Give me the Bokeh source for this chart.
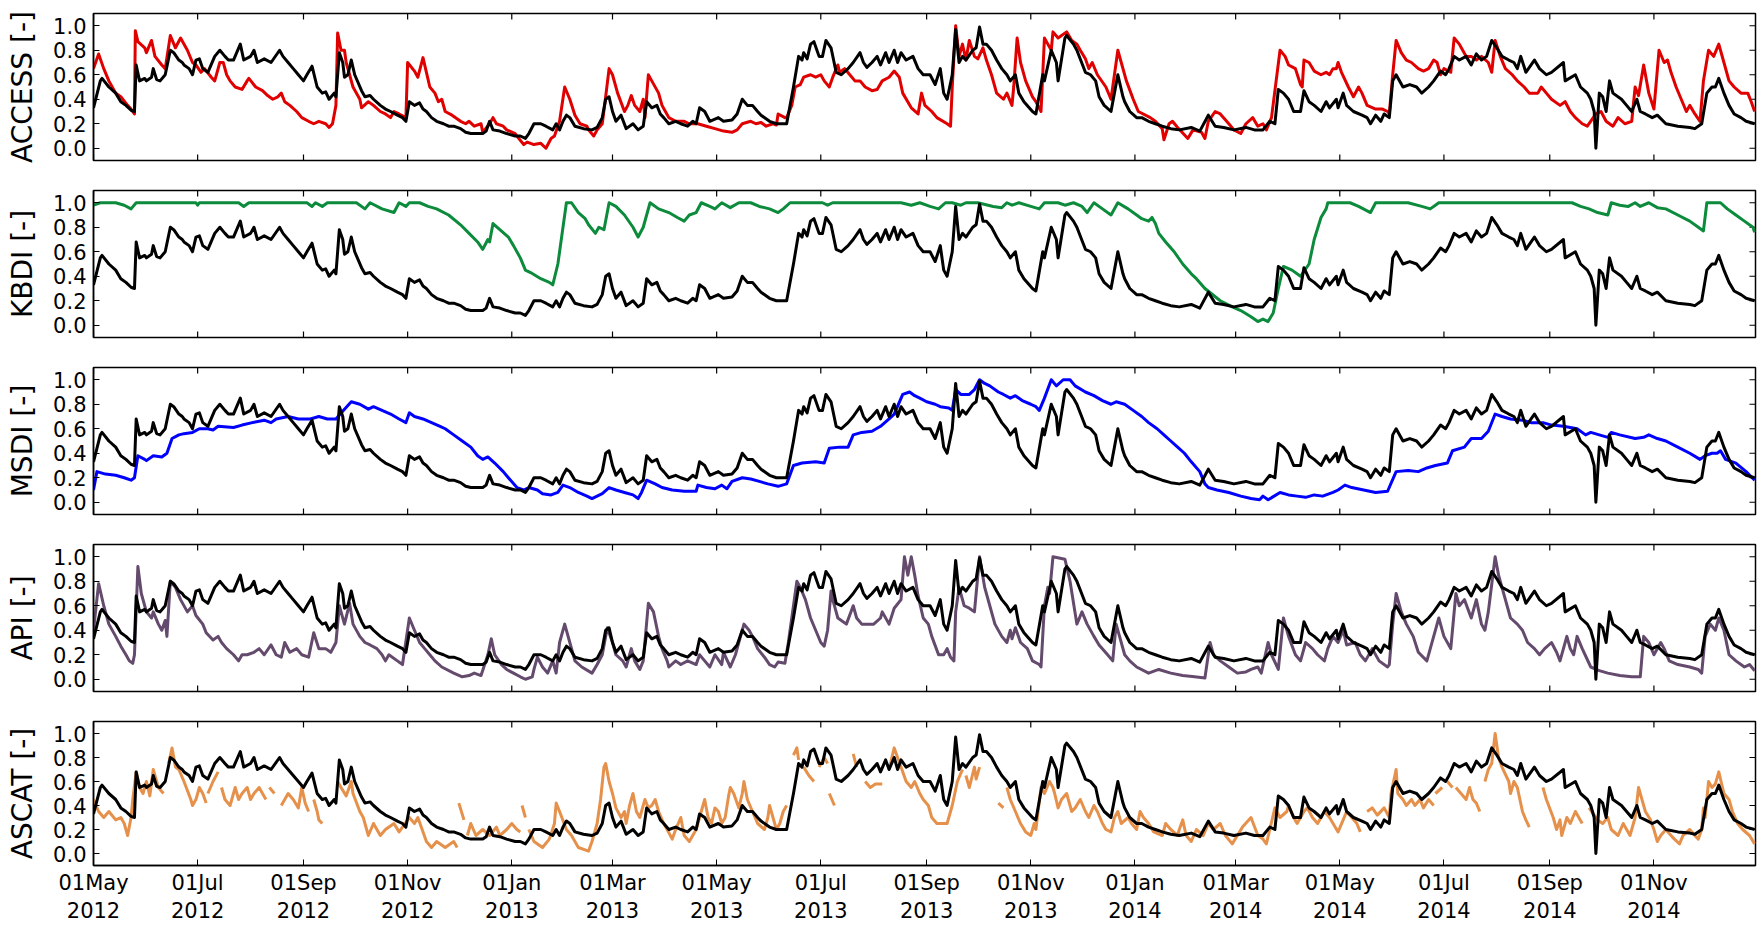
import numpy as np
import pandas as pd
from bokeh.plotting import figure
from bokeh.layouts import column
from bokeh.models import Range1d, FixedTicker
from bokeh.embed import file_html
from bokeh.resources import INLINE

START = "2012-05-01"
END = "2014-12-30"

tick_dates = ["2012-05-01", "2012-07-01", "2012-09-01", "2012-11-01", "2013-01-01", "2013-03-01",
              "2013-05-01", "2013-07-01", "2013-09-01", "2013-11-01", "2014-01-01", "2014-03-01",
              "2014-05-01", "2014-07-01", "2014-09-01", "2014-11-01"]
tick_labels = ["01May\n2012", "01Jul\n2012", "01Sep\n2012", "01Nov\n2012", "01Jan\n2013", "01Mar\n2013",
               "01May\n2013", "01Jul\n2013", "01Sep\n2013", "01Nov\n2013", "01Jan\n2014", "01Mar\n2014",
               "01May\n2014", "01Jul\n2014", "01Sep\n2014", "01Nov\n2014"]
y_ticks = [0.0, 0.2, 0.4, 0.6, 0.8, 1.0]
y_tick_labels = ["0.0", "0.2", "0.4", "0.6", "0.8", "1.0"]
panel_labels = ["ACCESS [-]", "KBDI [-]", "MSDI [-]", "API [-]", "ASCAT [-]"]
panel_colors = ["#e00000", "#0b8b3b", "#0000ff", "#644a6c", "#e6914b"]

# (days since 01 May 2012, value); None marks a gap in the record
ref_pts = [(0,0.33),(4,0.55),(5,0.57),(9,0.5),(13,0.45),(16,0.38),(19,0.35),(22,0.31),(24,0.30),(25,0.68),(27,0.55),(30,0.57),(31,0.55),(34,0.58),(35,0.65),(37,0.56),(39,0.55),(42,0.6),(45,0.8),(47,0.78),(50,0.72),(52,0.7),(53,0.68),(56,0.65),(58,0.6),(60,0.72),(62,0.73),(64,0.65),(67,0.62),(71,0.75),(74,0.8),(77,0.75),(79,0.72),(82,0.72),(86,0.85),(88,0.72),(92,0.75),(94,0.8),(96,0.7),(100,0.73),(104,0.7),(109,0.8),(111,0.75),(114,0.7),(117,0.65),(120,0.6),(123,0.55),(125,0.6),(128,0.67),(131,0.5),(134,0.45),(136,0.46),(138,0.4),(141,0.45),(142,0.42),(144,0.78),(146,0.7),(147,0.58),(149,0.6),(151,0.72),(153,0.6),(157,0.47),(159,0.42),(162,0.43),(164,0.4),(168,0.35),(171,0.32),(174,0.3),(178,0.27),(181,0.25),(183,0.22),(185,0.38),(188,0.35),(191,0.37),(193,0.32),(195,0.3),(198,0.25),(201,0.22),(205,0.2),(208,0.18),(211,0.18),(215,0.16),(218,0.13),(221,0.12),(228,0.12),(230,0.14),(232,0.22),(234,0.15),(238,0.14),(242,0.12),(247,0.1),(250,0.1),(253,0.08),(255,0.12),(258,0.2),(262,0.2),(265,0.18),(269,0.15),(271,0.2),(273,0.15),(275,0.22),(277,0.27),(279,0.25),(282,0.18),(287,0.16),(292,0.15),(295,0.17),(298,0.25),(300,0.4),(302,0.42),(304,0.3),(306,0.22),(309,0.27),(312,0.16),(316,0.2),(319,0.15),(322,0.18),(324,0.38),(327,0.33),(330,0.35),(332,0.28),(334,0.25),(337,0.2),(341,0.22),(344,0.2),(348,0.18),(351,0.22),(353,0.2),(355,0.33),(358,0.3),(361,0.22),(366,0.25),(369,0.22),(374,0.23),(377,0.28),(380,0.4),(383,0.35),(386,0.35),(389,0.3),(391,0.27),(396,0.22),(400,0.2),(406,0.2),(410,0.5),(413,0.75),(415,0.72),(416,0.78),(418,0.73),(420,0.85),(422,0.87),(425,0.75),(427,0.75),(429,0.88),(432,0.82),(435,0.62),(438,0.6),(442,0.65),(445,0.7),(449,0.78),(451,0.7),(453,0.66),(456,0.7),(459,0.75),(461,0.68),(464,0.78),(466,0.7),(469,0.8),(471,0.7),(473,0.78),(476,0.72),(480,0.75),(483,0.65),(486,0.6),(490,0.6),(493,0.52),(496,0.65),(498,0.45),(500,0.4),(503,0.6),(505,0.97),(507,0.7),(509,0.75),(511,0.72),(515,0.8),(517,0.82),(519,0.99),(521,0.85),(523,0.85),(526,0.8),(529,0.72),(532,0.65),(535,0.6),(537,0.55),(540,0.6),(542,0.45),(545,0.38),(550,0.3),(552,0.28),(556,0.6),(557,0.55),(561,0.8),(564,0.7),(565,0.55),(569,0.9),(570,0.92),(574,0.85),(576,0.8),(581,0.62),(584,0.6),(587,0.55),(589,0.42),(592,0.35),(596,0.3),(600,0.6),(603,0.42),(604,0.38),(607,0.3),(611,0.25),(614,0.25),(618,0.22),(622,0.2),(626,0.18),(631,0.16),(636,0.15),(643,0.17),(648,0.14),(653,0.27),(657,0.18),(662,0.17),(668,0.15),(675,0.17),(680,0.15),(685,0.15),(689,0.22),(692,0.2),(694,0.48),(697,0.45),(700,0.4),(703,0.3),(707,0.3),(709,0.47),(712,0.38),(715,0.35),(719,0.3),(722,0.38),(724,0.33),(728,0.4),(729,0.33),(732,0.45),(734,0.35),(738,0.3),(743,0.27),(746,0.25),(748,0.2),(751,0.27),(754,0.22),(756,0.28),(759,0.25),(761,0.55),(763,0.6),(767,0.5),(771,0.52),(775,0.5),(778,0.45),(782,0.5),(785,0.55),(789,0.63),(792,0.6),(794,0.65),(797,0.75),(800,0.72),(804,0.75),(807,0.68),(810,0.77),(813,0.72),(816,0.75),(819,0.88),(822,0.82),(825,0.75),(829,0.72),(832,0.7),(834,0.65),(836,0.75),(839,0.62),(844,0.72),(847,0.65),(851,0.6),(854,0.62),(861,0.7),(862,0.55),(868,0.6),(871,0.5),(875,0.45),(877,0.4),(879,0.3),(880,0.0),(882,0.45),(884,0.42),(886,0.3),(888,0.55),(890,0.45),(895,0.4),(898,0.35),(901,0.3),(904,0.4),(906,0.3),(909,0.28),(913,0.25),(916,0.27),(921,0.2),(928,0.18),(935,0.17),(938,0.16),(942,0.2),(945,0.45),(948,0.5),(950,0.5),(952,0.57),(955,0.45),(958,0.35),(961,0.28),(965,0.25),(968,0.22),(973,0.2)]

access_pts = [(0,0.65),(3,0.77),(6,0.65),(9,0.55),(13,0.45),(16,0.42),(20,0.35),(22,0.32),(24,0.28),(24.5,0.96),(26,0.87),(30,0.82),(31,0.78),(34,0.88),(36,0.75),(40,0.68),(42,0.65),(45,0.92),(48,0.82),(51,0.9),(55,0.8),(58,0.7),(60,0.68),(63,0.62),(65,0.65),(69,0.58),(71,0.55),(74,0.7),(76,0.7),(78,0.6),(80,0.55),(83,0.5),(87,0.48),(90,0.55),(91,0.57),(95,0.5),(99,0.47),(102,0.43),(105,0.4),(108,0.42),(110,0.45),(112,0.38),(115,0.35),(119,0.3),(122,0.25),(126,0.22),(129,0.2),(132,0.22),(136,0.2),(138,0.17),(140,0.2),(142,0.35),(143,0.94),(145,0.8),(147,0.8),(148,0.7),(152,0.5),(156,0.4),(157,0.33),(161,0.38),(164,0.35),(168,0.3),(171,0.28),(174,0.25),(176,0.3),(179,0.28),(183,0.25),(184,0.7),(188,0.63),(190,0.58),(193,0.74),(195,0.62),(197,0.5),(200,0.45),(202,0.38),(204,0.4),(206,0.3),(210,0.27),(215,0.22),(218,0.2),(220,0.22),(223,0.18),(227,0.2),(228,0.13),(232,0.2),(234,0.25),(236,0.2),(240,0.18),(242,0.15),(247,0.12),(248,0.1),(252,0.03),(254,0.05),(258,0.03),(262,0.04),(265,0.0),(268,0.08),(270,0.1),(273,0.22),(276,0.5),(279,0.4),(282,0.27),(285,0.2),(289,0.18),(290,0.15),(293,0.1),(295,0.15),(298,0.2),(300,0.42),(302,0.65),(304,0.6),(307,0.45),(311,0.3),(313,0.35),(315,0.43),(317,0.35),(320,0.3),(322,0.4),(323,0.25),(325,0.6),(327,0.55),(331,0.45),(333,0.35),(335,0.3),(337,0.25),(341,0.22),(346,0.22),(349,0.2),(354,0.2),(359,0.18),(364,0.16),(369,0.14),(374,0.13),(377,0.15),(380,0.2),(385,0.22),(388,0.2),(391,0.21),(394,0.18),(398,0.2),(400,0.19),(401,0.28),(405,0.25),(406,0.25),(409,0.35),(411,0.5),(414,0.52),(416,0.58),(420,0.6),(423,0.58),(426,0.6),(428,0.55),(431,0.5),(433,0.58),(436,0.68),(437,0.62),(440,0.65),(443,0.6),(446,0.55),(449,0.55),(452,0.5),(456,0.47),(459,0.48),(462,0.55),(466,0.58),(469,0.63),(472,0.58),(474,0.45),(479,0.33),(483,0.28),(485,0.45),(487,0.35),(491,0.3),(494,0.25),(500,0.2),(502,0.18),(503,0.5),(505,1.0),(507,0.75),(509,0.85),(511,0.72),(513,0.88),(516,0.75),(518,0.73),(521,0.82),(523,0.72),(526,0.6),(529,0.45),(533,0.4),(535,0.45),(538,0.35),(539,0.5),(541,0.9),(543,0.7),(546,0.55),(550,0.42),(552,0.38),(555,0.3),(557,0.9),(559,0.85),(561,0.8),(562,0.95),(565,0.9),(570,0.95),(573,0.88),(576,0.85),(578,0.8),(581,0.73),(583,0.65),(585,0.7),(588,0.6),(593,0.5),(596,0.4),(600,0.8),(602,0.7),(605,0.55),(609,0.4),(612,0.3),(619,0.25),(622,0.22),(626,0.16),(627,0.07),(630,0.2),(632,0.22),(635,0.17),(641,0.08),(644,0.15),(649,0.13),(651,0.08),(653,0.22),(657,0.3),(660,0.28),(665,0.2),(668,0.15),(672,0.12),(675,0.2),(679,0.25),(682,0.18),(685,0.2),(687,0.15),(690,0.25),(695,0.8),(698,0.75),(700,0.68),(704,0.65),(707,0.52),(708,0.5),(709,0.72),(712,0.7),(715,0.63),(719,0.6),(722,0.62),(724,0.6),(726,0.65),(728,0.65),(729,0.7),(731,0.62),(735,0.5),(738,0.42),(741,0.5),(743,0.45),(746,0.35),(751,0.32),(755,0.32),(758,0.3),(759,0.28),(761,0.6),(763,0.88),(766,0.78),(769,0.72),(772,0.7),(776,0.65),(779,0.63),(782,0.65),(785,0.72),(787,0.7),(789,0.6),(791,0.65),(795,0.62),(797,0.9),(800,0.85),(802,0.8),(804,0.75),(807,0.75),(810,0.72),(813,0.75),(817,0.7),(819,0.62),(821,0.88),(824,0.75),(827,0.65),(831,0.6),(834,0.55),(838,0.5),(841,0.45),(846,0.45),(848,0.5),(851,0.45),(854,0.4),(859,0.35),(862,0.38),(865,0.3),(868,0.25),(872,0.2),(875,0.18),(880,0.28),(883,0.3),(886,0.22),(890,0.18),(893,0.25),(897,0.2),(901,0.22),(903,0.5),(905,0.43),(908,0.68),(911,0.45),(914,0.32),(917,0.8),(920,0.7),(922,0.72),(924,0.62),(927,0.5),(930,0.4),(933,0.3),(935,0.35),(938,0.28),(941,0.22),(943,0.55),(946,0.8),(949,0.75),(952,0.85),(955,0.7),(958,0.55),(961,0.5),(965,0.45),(969,0.45),(971,0.38),(973,0.3)]

kbdi_pts = [(0,0.98),(4,1.0),(13,1.0),(18,0.98),(22,0.95),(25,1.0),(60,1.0),(61,0.98),(62,1.0),(85,1.0),(88,0.97),(91,1.0),(125,1.0),(128,0.97),(130,1.0),(134,0.97),(137,1.0),(154,1.0),(159,0.95),(162,1.0),(169,0.95),(176,0.92),(179,1.0),(183,0.97),(185,1.0),(191,1.0),(196,0.97),(201,0.95),(208,0.9),(215,0.82),(220,0.75),(225,0.68),(228,0.62),(231,0.7),(232,0.68),(234,0.83),(238,0.78),(243,0.72),(246,0.65),(250,0.55),(253,0.45),(256,0.43),(262,0.38),(267,0.35),(269,0.33),(272,0.5),(275,0.8),(277,1.0),(280,1.0),(284,0.92),(288,0.87),(290,0.82),(294,0.75),(296,0.8),(299,0.78),(302,1.0),(306,0.97),(311,0.9),(316,0.8),(319,0.72),(322,0.8),(326,1.0),(331,0.95),(337,0.92),(342,0.88),(346,0.85),(349,0.9),(353,0.92),(356,1.0),(361,0.97),(364,0.95),(368,1.0),(373,0.96),(378,1.0),(385,1.0),(390,0.97),(396,0.95),(401,0.92),(404,0.95),(408,1.0),(427,1.0),(430,0.98),(433,1.0),(473,1.0),(479,0.98),(484,1.0),(490,0.97),(495,0.95),(499,1.0),(503,1.0),(508,0.98),(511,1.0),(518,1.0),(527,0.97),(532,0.96),(535,1.0),(538,0.98),(542,1.0),(549,0.97),(554,0.95),(557,1.0),(565,1.0),(569,0.98),(574,1.0),(579,0.97),(582,0.92),(586,1.0),(591,0.95),(596,0.9),(600,1.0),(606,0.95),(611,0.9),(614,0.87),(618,0.85),(620,0.88),(622,0.83),(624,0.75),(628,0.68),(633,0.6),(638,0.5),(643,0.42),(646,0.38),(651,0.3),(660,0.2),(667,0.15),(672,0.12),(678,0.07),(682,0.03),(685,0.05),(688,0.03),(691,0.1),(694,0.3),(697,0.48),(702,0.45),(707,0.4),(712,0.5),(715,0.7),(719,0.88),(722,0.95),(723,1.0),(736,1.0),(741,0.97),(748,0.92),(751,1.0),(770,1.0),(778,0.97),(783,0.95),(786,0.98),(788,1.0),(866,1.0),(871,0.97),(876,0.95),(881,0.92),(887,0.9),(889,1.0),(894,0.98),(899,0.97),(903,1.0),(906,0.97),(911,1.0),(916,0.96),(921,0.95),(928,0.9),(935,0.85),(940,0.8),(943,0.77),(945,1.0),(953,1.0),(957,0.95),(962,0.9),(967,0.85),(972,0.8),(973,0.76)]

msdi_pts = [(0,0.1),(2,0.25),(7,0.23),(13,0.22),(18,0.2),(22,0.18),(24,0.2),(26,0.38),(30,0.35),(31,0.34),(35,0.38),(40,0.37),(43,0.4),(46,0.52),(50,0.55),(53,0.56),(58,0.57),(62,0.6),(67,0.6),(70,0.59),(73,0.62),(82,0.61),(87,0.63),(93,0.65),(100,0.67),(104,0.65),(107,0.68),(114,0.7),(120,0.68),(127,0.68),(132,0.7),(137,0.68),(142,0.68),(147,0.76),(151,0.82),(156,0.8),(161,0.76),(164,0.78),(169,0.75),(174,0.72),(179,0.68),(183,0.65),(185,0.73),(188,0.7),(193,0.68),(198,0.65),(203,0.62),(206,0.6),(211,0.55),(216,0.5),(221,0.45),(225,0.38),(228,0.35),(231,0.37),(235,0.32),(240,0.25),(243,0.2),(248,0.12),(252,0.1),(255,0.12),(260,0.1),(263,0.07),(268,0.06),(272,0.08),(275,0.14),(279,0.12),(284,0.08),(289,0.05),(292,0.03),(295,0.05),(298,0.07),(302,0.12),(306,0.1),(311,0.08),(316,0.06),(319,0.03),(321,0.08),(324,0.18),(329,0.15),(333,0.12),(339,0.1),(346,0.09),(353,0.09),(354,0.14),(359,0.12),(364,0.11),(368,0.14),(371,0.11),(374,0.17),(380,0.2),(385,0.19),(390,0.17),(395,0.15),(401,0.13),(406,0.15),(410,0.3),(415,0.32),(423,0.33),(428,0.32),(431,0.44),(437,0.45),(442,0.45),(445,0.55),(450,0.57),(456,0.58),(461,0.62),(466,0.68),(469,0.72),(474,0.88),(478,0.9),(481,0.87),(484,0.85),(488,0.82),(493,0.8),(496,0.78),(501,0.77),(503,0.75),(505,0.92),(508,0.88),(513,0.88),(516,0.92),(519,1.0),(522,0.97),(525,0.95),(530,0.9),(533,0.88),(537,0.85),(540,0.87),(544,0.83),(549,0.8),(552,0.78),(554,0.75),(557,0.85),(561,1.0),(564,0.95),(568,1.0),(572,1.0),(575,0.95),(581,0.9),(586,0.87),(591,0.83),(596,0.8),(599,0.82),(604,0.8),(609,0.75),(614,0.7),(618,0.65),(623,0.6),(627,0.55),(631,0.5),(635,0.45),(639,0.4),(643,0.33),(648,0.25),(651,0.15),(653,0.12),(658,0.1),(665,0.08),(672,0.05),(678,0.03),(683,0.02),(685,0.05),(688,0.02),(695,0.08),(700,0.06),(705,0.05),(710,0.04),(715,0.06),(720,0.05),(726,0.08),(729,0.1),(733,0.14),(737,0.12),(744,0.1),(751,0.08),(758,0.09),(763,0.25),(770,0.26),(776,0.25),(781,0.28),(786,0.3),(793,0.32),(796,0.42),(803,0.45),(807,0.52),(813,0.52),(817,0.58),(821,0.72),(825,0.7),(830,0.68),(837,0.67),(842,0.65),(849,0.65),(854,0.63),(861,0.62),(869,0.6),(874,0.55),(877,0.57),(882,0.55),(887,0.53),(889,0.57),(894,0.55),(903,0.52),(908,0.53),(911,0.55),(916,0.52),(921,0.5),(928,0.45),(935,0.4),(941,0.35),(944,0.38),(948,0.4),(951,0.4),(953,0.42),(956,0.35),(962,0.32),(968,0.25),(973,0.18)]

api_pts = [(0,0.4),(3,0.78),(6,0.6),(9,0.45),(13,0.35),(16,0.27),(19,0.2),(21,0.15),(23,0.13),(24,0.2),(26,0.92),(28,0.7),(31,0.55),(34,0.5),(35,0.55),(38,0.45),(40,0.4),(42,0.48),(43,0.35),(45,0.8),(48,0.75),(51,0.65),(55,0.55),(58,0.6),(60,0.52),(64,0.45),(66,0.38),(70,0.32),(73,0.35),(75,0.3),(78,0.25),(82,0.2),(85,0.15),(87,0.2),(90,0.2),(94,0.22),(97,0.25),(100,0.2),(104,0.28),(107,0.2),(110,0.18),(112,0.3),(115,0.22),(119,0.25),(122,0.2),(126,0.18),(129,0.38),(132,0.25),(136,0.25),(139,0.22),(142,0.3),(144,0.6),(147,0.45),(150,0.62),(152,0.45),(156,0.35),(159,0.3),(162,0.28),(166,0.25),(169,0.2),(171,0.15),(173,0.2),(178,0.15),(181,0.12),(185,0.5),(188,0.4),(191,0.3),(194,0.25),(197,0.2),(200,0.15),(204,0.1),(211,0.05),(216,0.02),(220,0.03),(223,0.05),(227,0.03),(231,0.2),(233,0.33),(235,0.2),(239,0.12),(242,0.08),(246,0.05),(250,0.02),(253,0.0),(257,0.02),(258,0.08),(260,0.18),(263,0.1),(266,0.05),(269,0.15),(271,0.05),(273,0.3),(276,0.45),(279,0.3),(282,0.15),(286,0.1),(292,0.05),(295,0.12),(298,0.2),(300,0.35),(301,0.42),(304,0.3),(306,0.2),(310,0.15),(312,0.1),(315,0.25),(317,0.15),(320,0.08),(322,0.15),(325,0.62),(328,0.55),(331,0.35),(333,0.25),(336,0.15),(337,0.1),(341,0.15),(344,0.12),(348,0.15),(353,0.12),(355,0.2),(358,0.15),(361,0.1),(364,0.2),(368,0.12),(369,0.22),(373,0.1),(376,0.2),(381,0.45),(384,0.4),(386,0.35),(389,0.25),(393,0.18),(396,0.12),(399,0.1),(401,0.14),(405,0.13),(407,0.3),(412,0.8),(414,0.75),(417,0.65),(420,0.5),(423,0.4),(426,0.3),(428,0.27),(430,0.4),(432,0.72),(433,0.65),(436,0.5),(441,0.45),(445,0.6),(447,0.5),(450,0.45),(454,0.45),(457,0.45),(461,0.5),(462,0.55),(466,0.45),(469,0.58),(473,0.65),(475,1.0),(477,0.85),(479,1.0),(481,0.85),(483,0.68),(486,0.5),(489,0.45),(491,0.35),(495,0.2),(498,0.2),(500,0.25),(502,0.18),(504,0.15),(505,0.55),(507,0.75),(510,0.6),(513,0.58),(516,0.55),(519,1.0),(522,0.75),(525,0.6),(528,0.45),(532,0.35),(535,0.3),(537,0.4),(538,0.33),(540,0.42),(543,0.3),(547,0.25),(550,0.15),(554,0.12),(555,0.1),(557,0.6),(559,0.75),(560,0.7),(562,1.0),(569,0.98),(572,0.8),(576,0.45),(579,0.55),(582,0.45),(586,0.35),(589,0.28),(594,0.2),(597,0.15),(599,0.45),(601,0.35),(604,0.2),(607,0.15),(611,0.1),(618,0.05),(624,0.08),(631,0.05),(638,0.03),(645,0.02),(651,0.01),(654,0.3),(656,0.2),(660,0.15),(665,0.1),(670,0.05),(675,0.06),(678,0.08),(682,0.1),(684,0.05),(688,0.3),(690,0.2),(694,0.08),(697,0.5),(700,0.35),(704,0.2),(707,0.15),(710,0.3),(714,0.25),(717,0.2),(721,0.15),(723,0.25),(726,0.35),(729,0.3),(732,0.4),(734,0.28),(739,0.3),(742,0.2),(745,0.15),(749,0.25),(753,0.15),(758,0.1),(759,0.12),(761,0.45),(763,0.7),(766,0.55),(769,0.45),(773,0.35),(776,0.22),(781,0.15),(785,0.35),(788,0.5),(791,0.35),(795,0.25),(798,0.7),(800,0.6),(803,0.65),(807,0.5),(810,0.65),(813,0.45),(815,0.4),(817,0.55),(821,1.0),(823,0.85),(827,0.65),(830,0.5),(834,0.45),(837,0.4),(840,0.3),(844,0.25),(847,0.2),(850,0.25),(854,0.3),(857,0.22),(859,0.15),(861,0.25),(863,0.35),(865,0.25),(867,0.2),(869,0.35),(872,0.25),(877,0.1),(882,0.07),(887,0.05),(894,0.03),(901,0.02),(906,0.02),(908,0.35),(911,0.3),(914,0.2),(918,0.3),(920,0.25),(923,0.15),(928,0.12),(935,0.1),(940,0.08),(942,0.05),(944,0.35),(947,0.45),(950,0.4),(952,0.5),(955,0.4),(958,0.2),(962,0.15),(967,0.1),(970,0.12),(973,0.07)]

ascat_pts = [(0,0.45),(3,0.35),(6,0.3),(9,0.35),(13,0.28),(16,0.3),(18,0.25),(20,0.15),(22,0.3),(23,0.45),(25,0.68),(27,0.55),(29,0.5),(31,0.6),(33,0.48),(35,0.7),(38,0.55),(41,0.5),None,
             (44,0.75),(46,0.88),(48,0.72),(50,0.7),(53,0.6),(57,0.45),(58,0.4),(60,0.45),(62,0.55),(64,0.5),(66,0.42),None,
             (67,0.5),(70,0.6),(73,0.68),None,
             (75,0.55),(77,0.45),(80,0.4),(83,0.55),(85,0.45),(87,0.5),(90,0.55),(92,0.45),(94,0.5),(97,0.55),(99,0.5),(101,0.45),None,
             (103,0.55),(106,0.5),None,
             (110,0.4),(114,0.5),(117,0.45),(120,0.38),(122,0.55),(124,0.42),(126,0.35),None,
             (129,0.45),(131,0.35),(132,0.28),(134,0.25),None,
             (143,0.6),(145,0.55),(148,0.48),(151,0.6),(152,0.5),(156,0.35),(158,0.3),(161,0.15),(164,0.25),(168,0.15),(171,0.2),(176,0.25),(179,0.18),(185,0.3),(188,0.25),(190,0.3),(195,0.1),(198,0.05),(201,0.1),(206,0.05),(211,0.1),(213,0.05),None,
             (214,0.42),(217,0.28),None,
             (219,0.15),(221,0.25),(224,0.15),(228,0.2),(232,0.15),(236,0.22),(238,0.15),(242,0.2),(245,0.25),(248,0.2),(250,0.18),None,
             (251,0.4),(253,0.3),None,
             (255,0.2),(258,0.1),(263,0.05),(267,0.12),(270,0.25),(271,0.42),(273,0.35),(277,0.2),(280,0.15),(284,0.05),(290,0.02),(292,0.1),(295,0.25),(297,0.45),(299,0.72),(300,0.75),(302,0.6),(304,0.5),(306,0.38),(309,0.3),(311,0.35),(312,0.25),(314,0.4),(316,0.5),(318,0.35),(320,0.3),(323,0.45),(325,0.38),(327,0.4),(329,0.45),(331,0.35),(334,0.25),(336,0.2),(339,0.12),(341,0.2),(344,0.3),(346,0.15),(349,0.1),(353,0.2),(356,0.35),(358,0.45),(360,0.3),(362,0.25),(364,0.38),(366,0.35),(368,0.25),(370,0.3),(372,0.48),(373,0.55),(375,0.5),(378,0.38),(380,0.5),(381,0.6),(383,0.45),(386,0.35),(389,0.25),(393,0.2),(395,0.3),(396,0.4),(398,0.3),(400,0.2),(402,0.25),(404,0.35),(406,0.4),None,
             (410,0.82),(412,0.88),(413,0.78),None,
             (416,0.72),(419,0.65),(422,0.6),None,
             (425,0.72),(428,0.8),(430,0.75),None,
             (431,0.5),(434,0.4),None,
             (445,0.83),(447,0.72),None,
             (452,0.6),(455,0.55),(458,0.58),(462,0.58),None,
             (466,0.7),(469,0.88),(471,0.8),(473,0.72),(476,0.6),(479,0.55),(481,0.6),(484,0.5),(486,0.45),(489,0.4),(491,0.3),(494,0.25),(497,0.25),(500,0.25),(503,0.4),(506,0.6),(509,0.7),None,
             (511,0.65),(513,0.55),(516,0.72),(517,0.62),(519,0.72),None,
             (530,0.42),(533,0.38),None,
             (535,0.55),(537,0.45),(540,0.35),(543,0.25),(546,0.18),(549,0.15),(551,0.25),(552,0.2),(555,0.55),(557,0.5),(560,0.6),(562,0.55),(563,0.5),(565,0.38),(567,0.45),(570,0.5),(573,0.35),(575,0.38),(578,0.45),(581,0.35),(583,0.3),(586,0.4),(588,0.35),(591,0.25),(593,0.2),(596,0.18),(598,0.3),(600,0.35),(602,0.25),(606,0.3),(608,0.25),(611,0.2),(613,0.35),(615,0.3),(618,0.25),(621,0.18),(626,0.15),(628,0.25),(631,0.2),(635,0.15),(636,0.2),(638,0.28),(640,0.15),(643,0.1),(646,0.2),(650,0.15),(653,0.25),(656,0.2),(660,0.25),(663,0.15),(667,0.08),(670,0.15),(673,0.22),(678,0.3),(682,0.15),(685,0.12),(687,0.08),(689,0.2),(692,0.38),(695,0.3),(699,0.35),(700,0.4),(703,0.3),(705,0.25),(709,0.35),(711,0.38),(714,0.3),(717,0.25),(721,0.35),(724,0.3),(729,0.18),(732,0.28),(734,0.35),(737,0.3),(740,0.25),(742,0.18),None,
             (746,0.35),(749,0.38),(752,0.32),(756,0.38),(759,0.3),(760,0.5),(763,0.7),(764,0.5),(767,0.45),(769,0.4),(772,0.45),(774,0.4),(777,0.45),(779,0.38),(782,0.45),(785,0.4),None,
             (786,0.5),(790,0.55),None,
             (793,0.6),(796,0.55),None,
             (798,0.55),(801,0.5),(804,0.45),(806,0.55),(808,0.45),(810,0.42),(812,0.35),None,
             (815,0.6),(817,0.7),(819,0.75),(821,1.0),(823,0.8),(825,0.72),(829,0.6),(830,0.5),(832,0.6),(834,0.55),(837,0.35),(839,0.28),(841,0.22),None,
             (849,0.55),(851,0.45),(855,0.3),(857,0.2),(859,0.28),(860,0.15),(863,0.3),(865,0.25),(868,0.35),(872,0.25),None,
             (876,0.38),(881,0.28),(884,0.25),(887,0.3),(889,0.2),(893,0.15),(896,0.25),(898,0.2),(900,0.15),(903,0.3),(905,0.55),(907,0.45),(909,0.35),(912,0.28),(914,0.2),(916,0.1),(918,0.15),(921,0.2),(924,0.15),(926,0.12),(929,0.08),(931,0.15),(935,0.2),(938,0.15),(940,0.12),(942,0.2),(943,0.38),(944,0.3),(946,0.6),(948,0.55),(950,0.58),(952,0.68),(955,0.5),(958,0.45),(960,0.35),(963,0.25),(966,0.2),(970,0.15),(973,0.08)]

panel_series = [access_pts, kbdi_pts, msdi_pts, api_pts, ascat_pts]


def unpack(pts):
    xs, ys = [], []
    for pt in pts:
        if pt is None:
            xs.append(xs[-1] + 0.5)
            ys.append(float("nan"))
        else:
            xs.append(float(pt[0]))
            ys.append(float(pt[1]))
    return np.array(xs), np.array(ys)


t0 = pd.Timestamp(START)
x_ticks = [int((pd.Timestamp(d) - t0).days) for d in tick_dates]
x_end = (pd.Timestamp(END) - t0).days + 0.5
Y0, Y1 = -0.1, 1.1
x_range = Range1d(0, x_end)

FONT = "DejaVu Sans"
ref_x, ref_y = unpack(ref_pts)

figs = []
for i in range(5):
    last = (i == 4)
    p = figure(width=1760, height=218 if last else 177,
               x_range=x_range, y_range=Range1d(Y0, Y1),
               output_backend="svg", toolbar_location=None,
               min_border_left=93, min_border_right=5, min_border_top=13,
               min_border_bottom=58 if last else 17)
    p.xgrid.visible = False
    p.ygrid.visible = False
    p.outline_line_color = "black"
    p.outline_line_width = 1.5
    p.background_fill_color = "white"
    p.border_fill_color = "white"

    xa = p.xaxis[0]
    if last:
        xa.ticker = FixedTicker(ticks=x_ticks)
        xa.major_label_overrides = {t: lab for t, lab in zip(x_ticks, tick_labels)}
        xa.major_tick_in = 6
        xa.major_tick_out = 0
        xa.minor_tick_line_color = None
        xa.axis_line_width = 1.5
        xa.major_label_text_font = FONT
        xa.major_label_text_color = "black"
        xa.major_label_standoff = 5
        xa.major_label_text_font_size = "21px"
    else:
        xa.visible = False

    ya = p.yaxis[0]
    ya.ticker = FixedTicker(ticks=y_ticks)
    ya.major_label_overrides = {t: lab for t, lab in zip(y_ticks, y_tick_labels)}
    ya.major_tick_in = 6
    ya.major_tick_out = 0
    ya.minor_tick_line_color = None
    ya.axis_line_width = 1.5
    ya.major_label_text_font = FONT
    ya.major_label_text_font_size = "21px"
    ya.major_label_text_color = "black"
    ya.major_label_standoff = 7
    ya.axis_label = panel_labels[i]
    ya.axis_label_text_font = FONT
    ya.axis_label_text_font_size = "28px"
    ya.axis_label_text_font_style = "normal"
    ya.axis_label_text_color = "black"
    ya.axis_label_standoff = 11

    # inward tick marks on the top, right (and unlabeled bottom) frame edges
    nx, ny = len(x_ticks), len(y_ticks)
    p.scatter(x_ticks, [Y1] * nx, marker="dash", angle=np.pi / 2, size=12,
              line_color="black", line_width=1.2)
    p.scatter([x_end] * ny, y_ticks, marker="dash", size=12,
              line_color="black", line_width=1.2)
    if not last:
        p.scatter(x_ticks, [Y0] * nx, marker="dash", angle=np.pi / 2, size=12,
                  line_color="black", line_width=1.2)

    cx, cy = unpack(panel_series[i])
    p.line(cx, cy, line_color=panel_colors[i], line_width=3, line_join="round")
    p.line(ref_x, ref_y, line_color="black", line_width=3, line_join="round")
    figs.append(p)

layout = column(*figs, spacing=0)
open("out.html", "w").write(file_html(layout, INLINE))
